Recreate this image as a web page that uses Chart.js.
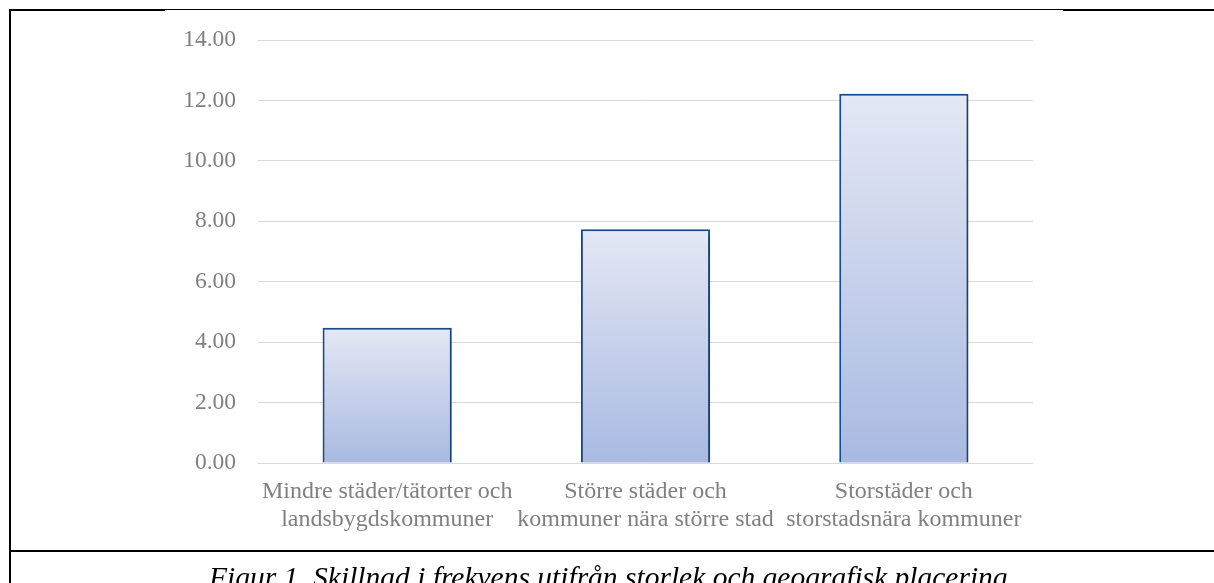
<!DOCTYPE html>
<html>
<head>
  <meta charset="utf-8">
  <title>Skillnad i frekvens</title>
  <script src="https://cdn.jsdelivr.net/npm/chart.js"></script>
  <style>
    body { margin: 0; background: #fff; width: 1214px; height: 583px; overflow: hidden; position: relative; }
    #wrap { position: absolute; left: 0; top: 0; width: 1214px; height: 549px; }
    .line { position: absolute; background: #000; }
    #caption {
      position: absolute; left: 0; top: 563px; width: 1224px; text-align: center;
      font-family: "Liberation Serif", "Times New Roman", serif; font-style: italic;
      font-size: 29.5px; line-height: 29px; color: #000; white-space: nowrap;
    }
  </style>
</head>
<body>
  <div id="wrap"><canvas id="barChart"></canvas></div>

  <!-- tabellramen runt diagrammet -->
  <div class="line" style="left:10px; top:9px; width:1204px; height:1px;"></div>
  <div class="line" style="left:10px; top:9px; width:155px; height:2px;"></div>
  <div class="line" style="left:1063px; top:9px; width:151px; height:2px;"></div>
  <div class="line" style="left:9px; top:9px; width:2px; height:574px;"></div>
  <div class="line" style="left:9px; top:550px; width:1205px; height:2px;"></div>

  <div id="caption">Figur 1. Skillnad i frekvens utifrån storlek och geografisk placering.</div>

  <script>
    const categories = [
      ['Mindre städer/tätorter och', 'landsbygdskommuner'],
      ['Större städer och', 'kommuner nära större stad'],
      ['Storstäder och', 'storstadsnära kommuner']
    ];
    const values = [4.48, 7.74, 12.22];
    const yTicks = [0, 2, 4, 6, 8, 10, 12, 14];

    const serif = '"Liberation Serif", "Times New Roman", serif';

    // gradient per stapel, ljus upptill och mörkare nedtill
    function barFill(context) {
      const chart = context.chart;
      if (!chart.chartArea || context.dataIndex === undefined) return '#c6d0ec';
      const y = chart.scales.y;
      const top = y.getPixelForValue(values[context.dataIndex]);
      const bottom = y.getPixelForValue(0);
      const g = chart.ctx.createLinearGradient(0, top, 0, bottom);
      g.addColorStop(0, '#e4e8f5');
      g.addColorStop(1, '#a9b9e1');
      return g;
    }

    const barShadow = {
      id: 'barShadow',
      beforeDatasetsDraw(chart) {
        const ctx = chart.ctx;
        ctx.save();
        ctx.shadowColor = 'rgba(0,0,0,0.3)';
        ctx.shadowBlur = 5;
        ctx.shadowOffsetX = 1.5;
        ctx.shadowOffsetY = 1.5;
      },
      afterDatasetsDraw(chart) {
        chart.ctx.restore();
      }
    };

    new Chart(document.getElementById('barChart'), {
      type: 'bar',
      data: {
        labels: categories,
        datasets: [{
          data: values,
          backgroundColor: barFill,
          borderColor: '#174f91',
          borderWidth: 2,
          borderSkipped: 'bottom',
          categoryPercentage: 1,
          barPercentage: 0.5
        }]
      },
      options: {
        responsive: true,
        maintainAspectRatio: false,
        animation: false,
        layout: { padding: { left: 0, right: 181, top: 40, bottom: 0 } },
        plugins: { legend: { display: false }, tooltip: { enabled: false } },
        scales: {
          x: {
            grid: { display: false, drawTicks: false },
            border: { display: false },
            ticks: {
              autoSkip: false, maxRotation: 0, padding: 14,
              color: '#808080',
              font: { family: serif, size: 24, lineHeight: 1.2 }
            },
            afterFit(scale) { scale.height = 86; }
          },
          y: {
            min: 0, max: 14,
            afterBuildTicks(scale) { scale.ticks = yTicks.map(v => ({ value: v })); },
            grid: { color: '#d9d9d9', lineWidth: 1, drawTicks: false },
            border: { display: false },
            ticks: {
              padding: 22,
              color: '#808080',
              font: { family: serif, size: 23.5 },
              callback: v => v.toFixed(2)
            },
            afterFit(scale) { scale.width = 258; }
          }
        }
      },
      plugins: [barShadow]
    });
  </script>
</body>
</html>
